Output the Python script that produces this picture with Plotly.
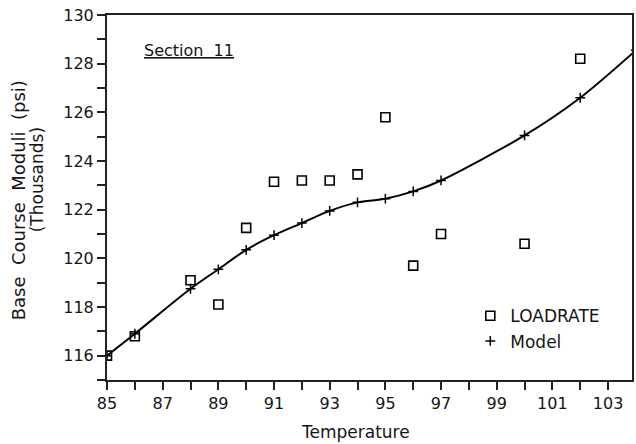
import plotly.graph_objects as go

# Measured data (LOADRATE) and fitted model
temp_meas = [85, 86, 88, 89, 90, 91, 92, 93, 94, 95, 96, 97, 100, 102]
loadrate = [116.0, 116.8, 119.1, 118.1, 121.25, 123.15, 123.2, 123.2, 123.45, 125.8, 119.7, 121.0, 120.6, 128.2]

temp_model = [85, 86, 88, 89, 90, 91, 92, 93, 94, 95, 96, 97, 100, 102, 104]
model = [116.0, 116.9, 118.75, 119.55, 120.35, 120.95, 121.45, 121.95, 122.3, 122.45, 122.75, 123.2, 125.05, 126.6, 128.55]

x_ticks = [85, 87, 89, 91, 93, 95, 97, 99, 101, 103]
y_ticks = [116, 118, 120, 122, 124, 126, 128, 130]

FONT = "DejaVu Sans, Arial, sans-serif"
TXT = "#151515"

fig = go.Figure()

fig.add_trace(go.Scatter(
    x=temp_model, y=model, mode="lines",
    line=dict(color="black", width=2, shape="spline", smoothing=0.8),
    showlegend=False, hoverinfo="skip",
))
fig.add_trace(go.Scatter(
    x=temp_meas, y=loadrate, mode="markers", name="LOADRATE",
    marker=dict(symbol="square-open", size=9, color="black", line=dict(width=1.6, color="black")),
))
fig.add_trace(go.Scatter(
    x=temp_model, y=model, mode="markers", name="Model",
    marker=dict(symbol="cross-thin-open", size=7, color="black", line=dict(width=1.5, color="black")),
))

fig.update_layout(
    width=636, height=444,
    margin=dict(l=107, r=2, t=15, b=64),
    paper_bgcolor="white", plot_bgcolor="white",
    font=dict(family=FONT, size=16, color=TXT),
    legend=dict(
        x=0.692, y=0.224, xanchor="left", yanchor="top",
        bgcolor="rgba(0,0,0,0)", font=dict(size=17, family=FONT, color=TXT),
        tracegroupgap=0, itemwidth=30,
    ),
    annotations=[
        dict(text="<u>Section  11</u>", xref="paper", yref="paper",
             x=(142 - 107) / 527, y=(380 - 50) / 365, xanchor="left", yanchor="middle",
             showarrow=False, font=dict(size=16, family=FONT, color=TXT)),
        dict(text="Temperature", xref="paper", yref="paper",
             x=(356 - 107) / 527, y=(380 - 432) / 365, xanchor="center", yanchor="middle",
             showarrow=False, font=dict(size=17, family=FONT, color=TXT)),
        dict(text="Base  Course  Moduli  (psi)", xref="paper", yref="paper",
             x=(18 - 107) / 527, y=(380 - 200) / 365, xanchor="center", yanchor="middle",
             textangle=-90, showarrow=False, font=dict(size=18, family=FONT, color=TXT)),
        dict(text="(Thousands)", xref="paper", yref="paper",
             x=(37 - 107) / 527, y=(380 - 180) / 365, xanchor="center", yanchor="middle",
             textangle=-90, showarrow=False, font=dict(size=17, family=FONT, color=TXT)),
    ],
)

fig.update_xaxes(
    range=[85, 103.86], tickvals=x_ticks, ticktext=[str(v) for v in x_ticks],
    ticks="outside", ticklen=8, tickwidth=2, tickcolor="#222",
    minor=dict(dtick=1, tick0=85, ticks="outside", ticklen=8, tickwidth=2, tickcolor="#222"),
    showline=True, linecolor="#222", linewidth=2, mirror=True,
    showgrid=False, zeroline=False,
    tickfont=dict(size=16, family=FONT, color=TXT),
)
fig.update_yaxes(
    range=[115, 130], tickvals=y_ticks, ticktext=[str(v) for v in y_ticks],
    ticks="outside", ticklen=8, tickwidth=2, tickcolor="#222",
    minor=dict(dtick=1, tick0=115, ticks="outside", ticklen=8, tickwidth=2, tickcolor="#222"),
    showline=True, linecolor="#222", linewidth=2, mirror=True,
    showgrid=False, zeroline=False,
    tickfont=dict(size=16, family=FONT, color=TXT),
)

fig.write_html(
    "out.html",
    config={"displayModeBar": False},
    post_script="document.body.style.margin='0';document.body.style.overflow='hidden';",
)
